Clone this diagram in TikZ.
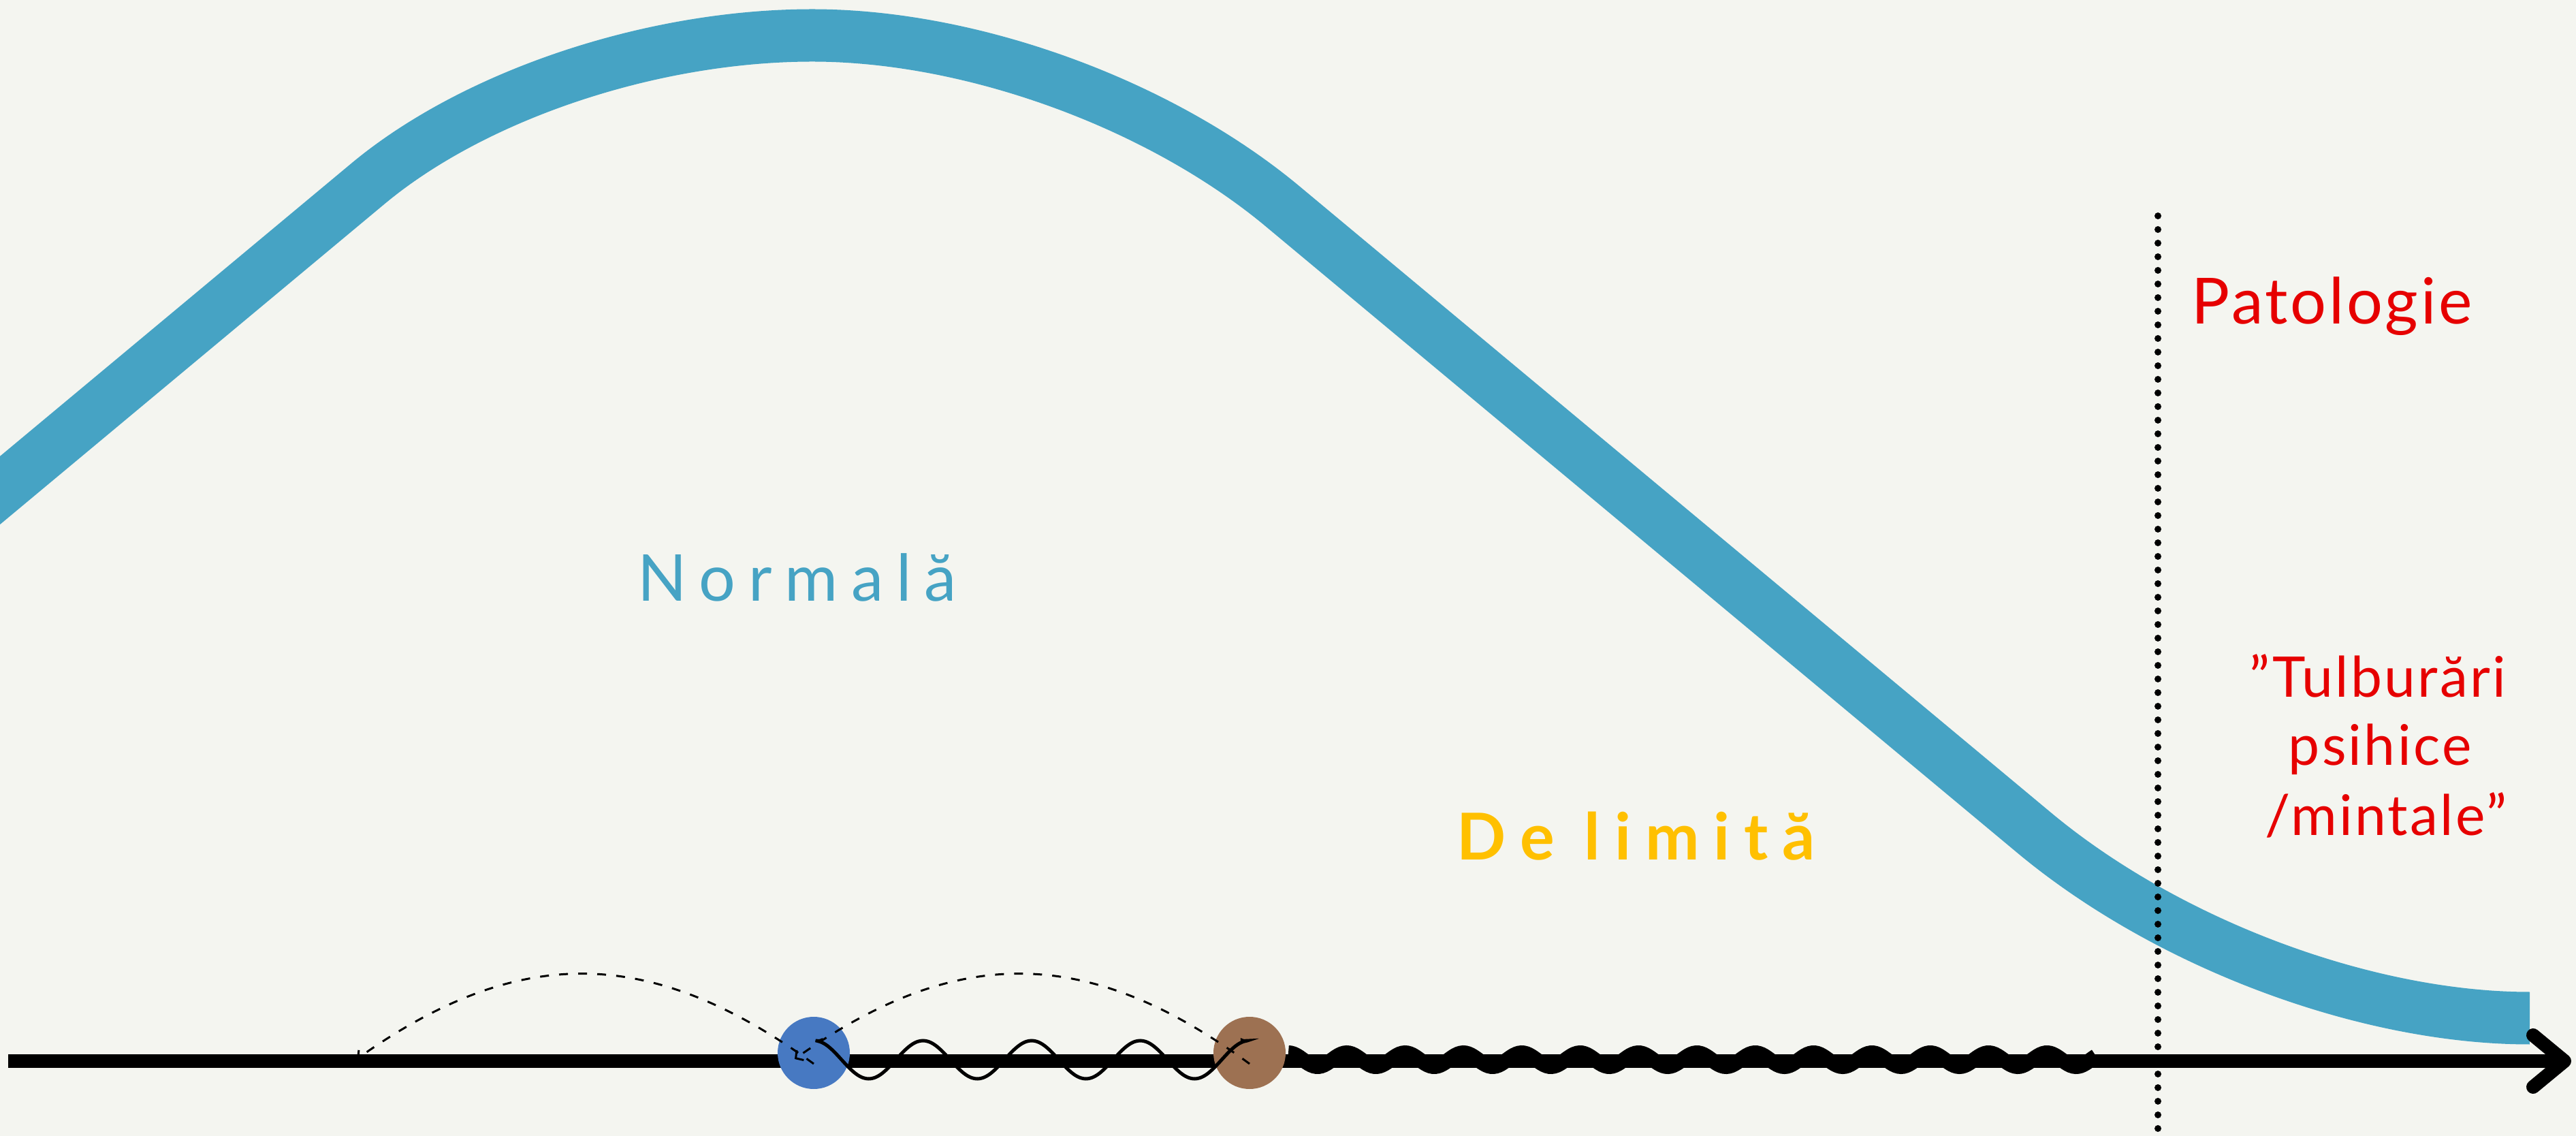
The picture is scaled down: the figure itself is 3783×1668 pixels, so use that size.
\documentclass[tikz,border=0pt]{standalone}
\usepackage{fontspec}
\setmainfont{Lato}
\newfontfamily\spacedfont[LetterSpace=20]{Lato}
\newfontfamily\redfont[LetterSpace=4]{Lato}
\usetikzlibrary{arrows.meta}

\definecolor{paper}{HTML}{F4F5F0}
\definecolor{curveblue}{HTML}{46A3C4}
\definecolor{dotblue}{HTML}{4779C2}
\definecolor{dotbrown}{HTML}{9D7152}
\definecolor{pathred}{HTML}{E60000}
\definecolor{limitgold}{HTML}{FFC000}

\begin{document}
\begin{tikzpicture}[x=0.1mm,y=-0.1mm,
  dot/.style={circle,inner sep=0pt,minimum size=10.6mm},
  zone/.style={inner sep=0pt,anchor=base west},
  redlabel/.style={inner sep=0pt,text=pathred,anchor=base,font=\redfont\fontsize{23.4}{28}\selectfont},
  jump/.style={line width=0.3mm,dash pattern=on 1.3mm off 1.5mm,-{Straight Barb[length=0.8mm,width=1.8mm]}},
  spring/.style={line width=0.5mm,{Latex[length=1.2mm,width=1mm]}-{Latex[length=1.2mm,width=1mm]}}]
\fill[paper] (0,0) rectangle (3783,1668);
\useasboundingbox (0,0) rectangle (3783,1668);

% the thick curve
\begin{scope}
\clip (0,0) rectangle (3783,1668);
\draw[curveblue,line width=7.7mm] (-60,770) -- (540,270)
  .. controls (697,139) and (958,52) .. (1193,52)
  .. controls (1425,52) and (1699,151) .. (1880,300) -- (2990,1225)
  .. controls (3186,1387) and (3476,1495) .. (3715,1495);
\end{scope}

% border line
\draw[line width=1mm,line cap=round,dash pattern=on 0mm off 2mm] (3169,317) -- (3169,1690);

% axis
\draw[line width=2mm,-{Straight Barb[length=4.6mm,width=7.6mm,round]}] (12,1558) -- (3776,1558);

\node[dot,fill=dotblue] (bluedot) at (1195,1546) {};
\node[dot,fill=dotbrown] (browndot) at (1835,1546) {};

% waves
\draw[spring] plot[domain=1196:1834,samples=161,smooth] (\x,{1556-28*cos((\x-1196)/159.5*360)});
\draw[line width=2.2mm] plot[domain=1892:3078,samples=320,smooth] (\x,{1556-10*cos((\x-1892)/85.7*360)});

% jumps back
\coordinate (jumpA) at (524,1555);
\coordinate (jumpB) at (1167,1555);
\draw[jump] ([yshift=-1.6mm]bluedot.center) .. controls (954,1387) and (761,1387) .. (jumpA);
\draw[jump] ([yshift=-1.6mm]browndot.center) .. controls (1597,1387) and (1404,1387) .. (jumpB);

% labels
\node[zone,text=curveblue,font=\spacedfont\fontsize{27}{32}\selectfont] (normal) at (936,883) {Normală};
\node[zone,text=limitgold,font=\spacedfont\bfseries\addfontfeature{LetterSpace=22}\fontsize{27}{32}\selectfont] (limit) at (2139,1262) {De limită};
\node[zone,text=pathred,font=\redfont\fontsize{26.6}{32}\selectfont] (patho) at (3218,476) {Patologie};
\node[redlabel] (tulb) at (3492,1024) {”Tulburări};
\node[redlabel] (psih) at (3495,1124) {psihice};
\node[redlabel] (mint) at (3504,1226) {/mintale”};
\end{tikzpicture}
\end{document}
